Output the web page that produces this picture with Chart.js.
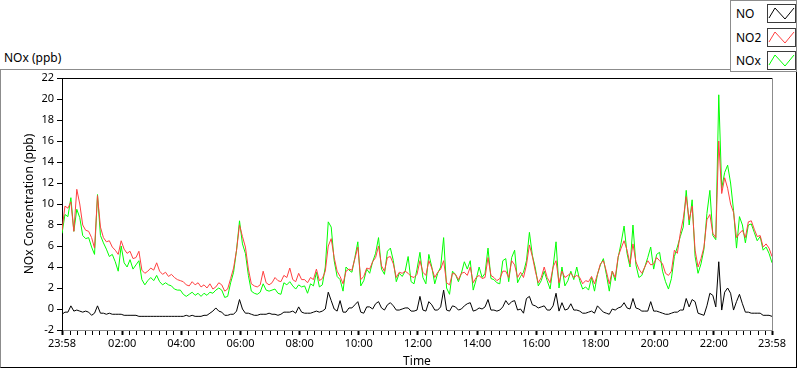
<!DOCTYPE html>
<html>
<head>
<meta charset="utf-8">
<script src="https://cdn.jsdelivr.net/npm/chart.js@4"></script>
<style>
  body { margin: 0; background: #fff; }
  #wrap { position: relative; width: 800px; height: 369px; overflow: hidden; font-family: "Noto Sans", sans-serif; color: #000; }
  #frame { position: absolute; left: 0; top: 69px; width: 797px; height: 299px; box-sizing: border-box;
           border-top: 1px solid #8c8c8c; border-left: 1px solid #8c8c8c; border-right: 1px solid #000; border-bottom: 1px solid #000; }
  #graphTitle { position: absolute; left: 4px; top: 49px; font-size: 12px; }
  #chart { position: absolute; left: 0; top: 0; }
  #legend { position: absolute; left: 730px; top: 0; width: 67px; height: 72px; box-sizing: border-box;
            border: 1px solid #8c8c8c; background: #fff; }
  .row { position: absolute; left: 0; width: 100%; height: 20px; }
  .row span { position: absolute; left: 5px; top: 1px; font-size: 12px; }
  .row svg { position: absolute; left: 36px; top: 0; }
</style>
</head>
<body>
<div id="wrap">
  <div id="frame"></div>
  <div id="graphTitle">NOx (ppb)</div>
  <canvas id="chart" width="800" height="369"></canvas>
  <div id="legend"></div>
</div>
<script>
// samples every 6 minutes, starting 23:58
const sampleStartHour = -2 / 60;
const sampleStepHour = 0.1;

const no2Values = [
  7.5, 9.8, 9.6, 10.2, 7.4, 11.4, 10.0, 8.0, 7.5, 7.4,
  6.8, 5.8, 10.8, 7.8, 6.8, 6.4, 6.5, 5.9, 5.6, 5.2,
  6.5, 5.7, 5.3, 5.5, 4.8, 4.9, 5.5, 3.7, 3.4, 3.6,
  3.9, 3.7, 4.4, 3.6, 3.3, 3.5, 3.1, 3.3, 3.0, 2.8,
  2.7, 2.6, 2.3, 2.2, 2.6, 2.3, 2.5, 2.1, 2.3, 2.0,
  2.4, 1.9, 2.1, 2.5, 2.3, 1.7, 1.9, 2.9, 3.9, 5.6,
  8.0, 6.9, 5.9, 3.8, 2.4, 2.2, 2.1, 2.3, 3.6, 2.5,
  2.3, 2.5, 3.0, 2.7, 2.6, 3.2, 3.0, 3.9, 2.8, 2.6,
  3.4, 2.8, 2.8, 2.5, 3.0, 2.8, 3.8, 2.7, 2.9, 3.6,
  6.0, 6.7, 4.9, 3.6, 3.1, 2.4, 3.6, 3.8, 3.7, 4.8,
  5.9, 2.8, 3.1, 3.9, 3.8, 4.5, 4.9, 6.0, 4.1, 3.6,
  4.9, 5.0, 4.3, 3.0, 3.5, 3.4, 3.6, 3.4, 3.1, 3.0,
  3.3, 4.6, 3.5, 3.2, 4.6, 3.9, 3.0, 3.5, 3.8, 4.6,
  2.5, 2.3, 3.4, 3.3, 2.8, 3.4, 3.5, 3.2, 4.0, 2.5,
  3.0, 3.2, 2.9, 3.0, 4.9, 3.2, 3.0, 2.7, 2.9, 3.6,
  3.6, 3.0, 4.6, 4.2, 3.0, 3.5, 3.0, 4.2, 6.1, 5.0,
  3.6, 2.5, 3.0, 4.0, 3.0, 2.5, 4.0, 4.6, 2.5, 3.6,
  3.0, 3.2, 3.4, 3.0, 3.2, 3.0, 2.4, 2.7, 2.6, 3.1,
  2.4, 3.3, 4.3, 4.6, 3.6, 2.4, 3.6, 3.0, 5.0, 5.8,
  6.5, 5.6, 4.3, 6.2, 4.5, 3.8, 3.4, 4.0, 4.6, 4.2,
  4.3, 4.9, 4.6, 4.3, 3.4, 3.2, 3.6, 5.6, 5.3, 7.2,
  8.6, 10.7, 8.5, 9.8, 5.6, 4.0, 4.8, 5.9, 8.5, 9.0,
  7.2, 6.8, 16.0, 11.0, 12.5, 11.5, 10.0, 9.2, 6.8, 7.2,
  7.5, 6.8, 8.3, 8.4, 7.6, 6.9, 7.0, 5.9, 6.2, 5.8,
  5.0
];

const noxValues = [
  7.2, 9.0, 8.8, 10.6, 7.4, 9.5, 8.7, 7.0, 6.7, 6.8,
  5.9, 5.2, 10.9, 7.0, 6.3, 5.7, 5.0, 5.2, 4.5, 3.6,
  6.0, 4.4, 4.0, 4.7, 3.8, 4.2, 4.6, 2.8, 2.3, 2.7,
  3.0, 2.7, 3.2, 2.6, 2.3, 2.5, 2.3, 2.2, 1.9, 1.8,
  1.8, 1.4, 1.2, 1.4, 1.6, 1.3, 1.5, 1.2, 1.5, 1.3,
  1.6, 1.5, 1.8, 2.0, 1.8, 1.1, 1.2, 2.5, 3.5, 5.6,
  8.4, 6.2, 5.3, 3.2, 1.7, 1.5, 1.4, 1.6, 2.4, 1.8,
  1.7, 1.8, 1.9, 1.5, 1.4, 2.5, 2.3, 2.6, 2.2, 1.9,
  2.3, 2.1, 2.2, 1.5, 2.4, 2.2, 3.5, 2.1, 2.3, 4.0,
  8.3, 7.8, 4.6, 3.1, 2.8, 1.7, 4.0, 3.7, 3.5, 4.9,
  6.4, 2.2, 2.7, 3.8, 3.4, 4.5, 5.3, 6.8, 3.8, 3.3,
  5.5, 5.8, 4.6, 2.6, 3.4, 3.1, 3.6, 5.0, 2.6, 2.4,
  3.8, 5.4, 3.0, 2.4, 5.2, 4.0, 2.4, 3.4, 4.0, 6.8,
  2.0, 1.4, 3.6, 3.3, 2.6, 3.4, 4.5, 3.8, 4.6, 1.8,
  2.8, 4.0, 3.0, 3.4, 5.8, 2.9, 2.8, 2.5, 2.4, 4.6,
  4.8, 2.6, 4.9, 5.6, 2.5, 3.1, 3.5, 4.6, 7.3, 5.1,
  3.9, 2.2, 2.7, 3.6, 2.7, 1.9, 4.0, 6.4, 2.0, 4.0,
  2.2, 2.7, 3.6, 2.8, 4.0, 2.7, 1.9, 2.1, 1.8, 3.0,
  1.7, 3.3, 4.2, 4.8, 3.3, 1.7, 3.6, 2.7, 4.9, 6.3,
  7.9, 5.3, 4.0, 8.0, 4.2, 3.0, 3.2, 4.0, 4.9, 5.9,
  3.8, 5.2, 5.4, 3.6, 2.6, 1.9, 2.9, 5.0, 5.9, 6.9,
  7.8, 11.3, 8.0, 10.4, 5.0, 3.4, 4.3, 5.7, 9.1, 11.3,
  7.0, 6.6, 20.4, 11.5, 13.0, 13.7, 12.0, 9.4, 5.8, 8.8,
  8.0, 6.3, 8.0, 8.1, 7.3, 6.5, 6.9, 5.6, 5.9, 5.3,
  4.4
];

const noValues = [
  -0.5, -0.3, -0.3, 0.3, -0.2, -0.1, -0.2, -0.3, -0.2, -0.3,
  -0.6, -0.4, 0.3, -0.4, -0.4, -0.5, -0.4, -0.5, -0.5, -0.5,
  -0.5, -0.6, -0.6, -0.6, -0.6, -0.6, -0.7, -0.7, -0.7, -0.7,
  -0.7, -0.7, -0.7, -0.7, -0.7, -0.7, -0.7, -0.7, -0.7, -0.7,
  -0.7, -0.7, -0.6, -0.7, -0.6, -0.7, -0.7, -0.7, -0.6, -0.6,
  -0.4, -0.2, 0.1, -0.2, -0.3, -0.6, -0.6, -0.5, -0.5, -0.2,
  0.9, 0.0, -0.4, -0.4, -0.5, -0.6, -0.6, -0.5, -0.5, -0.5,
  -0.4, -0.5, -0.5, -0.6, -0.5, -0.3, -0.3, -0.3, -0.2, -0.4,
  0.2, -0.3, -0.4, -0.4, -0.4, -0.3, -0.2, -0.3, -0.2, 0.0,
  1.6, 0.8, 0.0, -0.2, 0.8, -0.3, -0.3, 0.1, 0.1, 0.4,
  0.7, -0.3, -0.4, 0.2, 0.2, 0.0, 0.5, 0.7, 0.1, -0.1,
  0.4, 0.6, 0.3, -0.1, -0.1, 0.0, 0.1, 0.1, -0.2, -0.2,
  -0.1, 1.2, -0.1, -0.2, 0.7, 0.4, -0.1, -0.1, 0.2, 1.8,
  -0.1, -0.2, 0.3, 0.2, -0.1, 0.0, 0.3, 0.5, 0.6, -0.2,
  -0.1, 0.1, 0.0, 0.2, 0.9, -0.1, -0.1, -0.2, -0.1, 0.2,
  0.8, 0.4, 0.7, 0.8, -0.1, 0.0, -0.4, 1.0, 1.2, 0.4,
  0.3, 0.1, 0.2, 0.3, -0.1, -0.1, 0.3, 1.5, -0.2, 0.6,
  -0.1, 0.0, 0.5, -0.1, -0.1, -0.2, -0.4, -0.4, -0.3, -0.2,
  -0.4, 0.3, 0.0, -0.3, -0.4, -0.5, 0.0, -0.1, 0.1, 0.2,
  0.6, 0.1, 0.0, 1.0, 0.1, 0.0, -0.2, -0.2, -0.2, 0.7,
  -0.2, -0.2, -0.3, -0.4, -0.5, -0.5, -0.4, -0.3, -0.3, -0.1,
  -0.1, 1.0, 0.2, 0.9, 0.7, -0.4, -0.5, -0.6, 0.3, 1.5,
  1.3, 0.2, 4.5, -0.1, 1.6, 2.0, 1.5, -0.1, 0.7, 1.4,
  0.5, -0.3, -0.3, -0.4, -0.4, -0.4, -0.4, -0.6, -0.6, -0.6,
  -0.7
];

const seriesNames = ['NO', 'NO2', 'NOx'];
const seriesColors = ['#000000', '#ff4040', '#00ff00'];

const majorTickHours = [-2 / 60, 2, 4, 6, 8, 10, 12, 14, 16, 18, 20, 22, 23 + 58 / 60];
const majorTickLabels = ['23:58', '02:00', '04:00', '06:00', '08:00', '10:00', '12:00',
  '14:00', '16:00', '18:00', '20:00', '22:00', '23:58'];

const FONT = '"Noto Sans", sans-serif';

function toPoints(values) {
  return values.map((v, i) => ({ x: sampleStartHour + i * sampleStepHour, y: v }));
}

function majorIndex(value) {
  return majorTickHours.findIndex(h => Math.abs(h - value) < 1e-6);
}

// legend box (html)
const legend = document.getElementById('legend');
seriesNames.forEach((name, i) => {
  const row = document.createElement('div');
  row.className = 'row';
  row.style.top = (3 + i * 23.5) + 'px';
  row.innerHTML = '<span>' + name + '</span>' +
    '<svg width="29" height="19"><rect x="0.5" y="0.5" width="28" height="18" fill="#fff" stroke="#3c3c3c"/>' +
    '<polyline points="2,14 8,4 18,15 27,4" fill="none" stroke="' + seriesColors[i] + '" stroke-width="1"/></svg>';
  legend.appendChild(row);
});

const plotFrame = {
  id: 'plotFrame',
  afterDraw(chart) {
    const { ctx, chartArea: a } = chart;
    ctx.save();
    ctx.lineWidth = 1;
    ctx.strokeStyle = '#000';
    ctx.beginPath();
    ctx.moveTo(a.left, a.top + 0.5);
    ctx.lineTo(a.right, a.top + 0.5);
    ctx.stroke();
    ctx.strokeStyle = '#8c8c8c';
    ctx.beginPath();
    ctx.moveTo(a.right + 0.5, a.top);
    ctx.lineTo(a.right + 0.5, a.bottom);
    ctx.stroke();
    ctx.restore();
  }
};

const chart = new Chart(document.getElementById('chart'), {
  type: 'line',
  data: {
    datasets: [
      { label: seriesNames[0], data: toPoints(noValues), borderColor: seriesColors[0] },
      { label: seriesNames[1], data: toPoints(no2Values), borderColor: seriesColors[1] },
      { label: seriesNames[2], data: toPoints(noxValues), borderColor: seriesColors[2] }
    ]
  },
  options: {
    responsive: false,
    animation: false,
    devicePixelRatio: 1,
    layout: { padding: { left: 0, top: 78, right: 28, bottom: 0 } },
    elements: {
      line: { borderWidth: 1, tension: 0 },
      point: { radius: 0 }
    },
    plugins: {
      legend: { display: false },
      tooltip: { enabled: false }
    },
    scales: {
      x: {
        type: 'linear',
        min: majorTickHours[0],
        max: majorTickHours[majorTickHours.length - 1],
        afterFit(s) { s.height = 39; },
        afterBuildTicks(s) {
          const ticks = [];
          for (let h = 0; h < 24; h += 0.25) ticks.push(h);
          majorTickHours.forEach(h => { if (!ticks.some(t => Math.abs(t - h) < 1e-6)) ticks.push(h); });
          ticks.sort((a, b) => a - b);
          s.ticks = ticks.map(v => ({ value: v }));
        },
        border: { color: '#8c8c8c', width: 1 },
        grid: {
          drawOnChartArea: false,
          tickLength: 5,
          tickColor: '#000',
          tickWidth: c => (c.tick && majorIndex(c.tick.value) >= 0 ? 2 : 1)
        },
        ticks: {
          autoSkip: false,
          maxRotation: 0,
          padding: 2,
          color: '#000',
          font: { family: FONT, size: 11 },
          callback: v => { const k = majorIndex(v); return k >= 0 ? majorTickLabels[k] : ''; }
        },
        title: {
          display: true,
          text: 'Time',
          color: '#000',
          font: { family: FONT, size: 12 },
          padding: { top: 0, bottom: 0 }
        }
      },
      y: {
        min: -2,
        max: 22,
        afterFit(s) { s.width = 62; },
        border: { color: '#000', width: 1 },
        grid: { drawOnChartArea: false, tickLength: 5, tickColor: '#000' },
        ticks: {
          stepSize: 2,
          padding: 3,
          color: '#000',
          font: { family: FONT, size: 11 }
        },
        title: {
          display: true,
          text: 'NOx Concentration (ppb)',
          color: '#000',
          font: { family: FONT, size: 12 },
          padding: { top: 22, bottom: 0 }
        }
      }
    }
  },
  plugins: [plotFrame]
});
</script>
</body>
</html>
